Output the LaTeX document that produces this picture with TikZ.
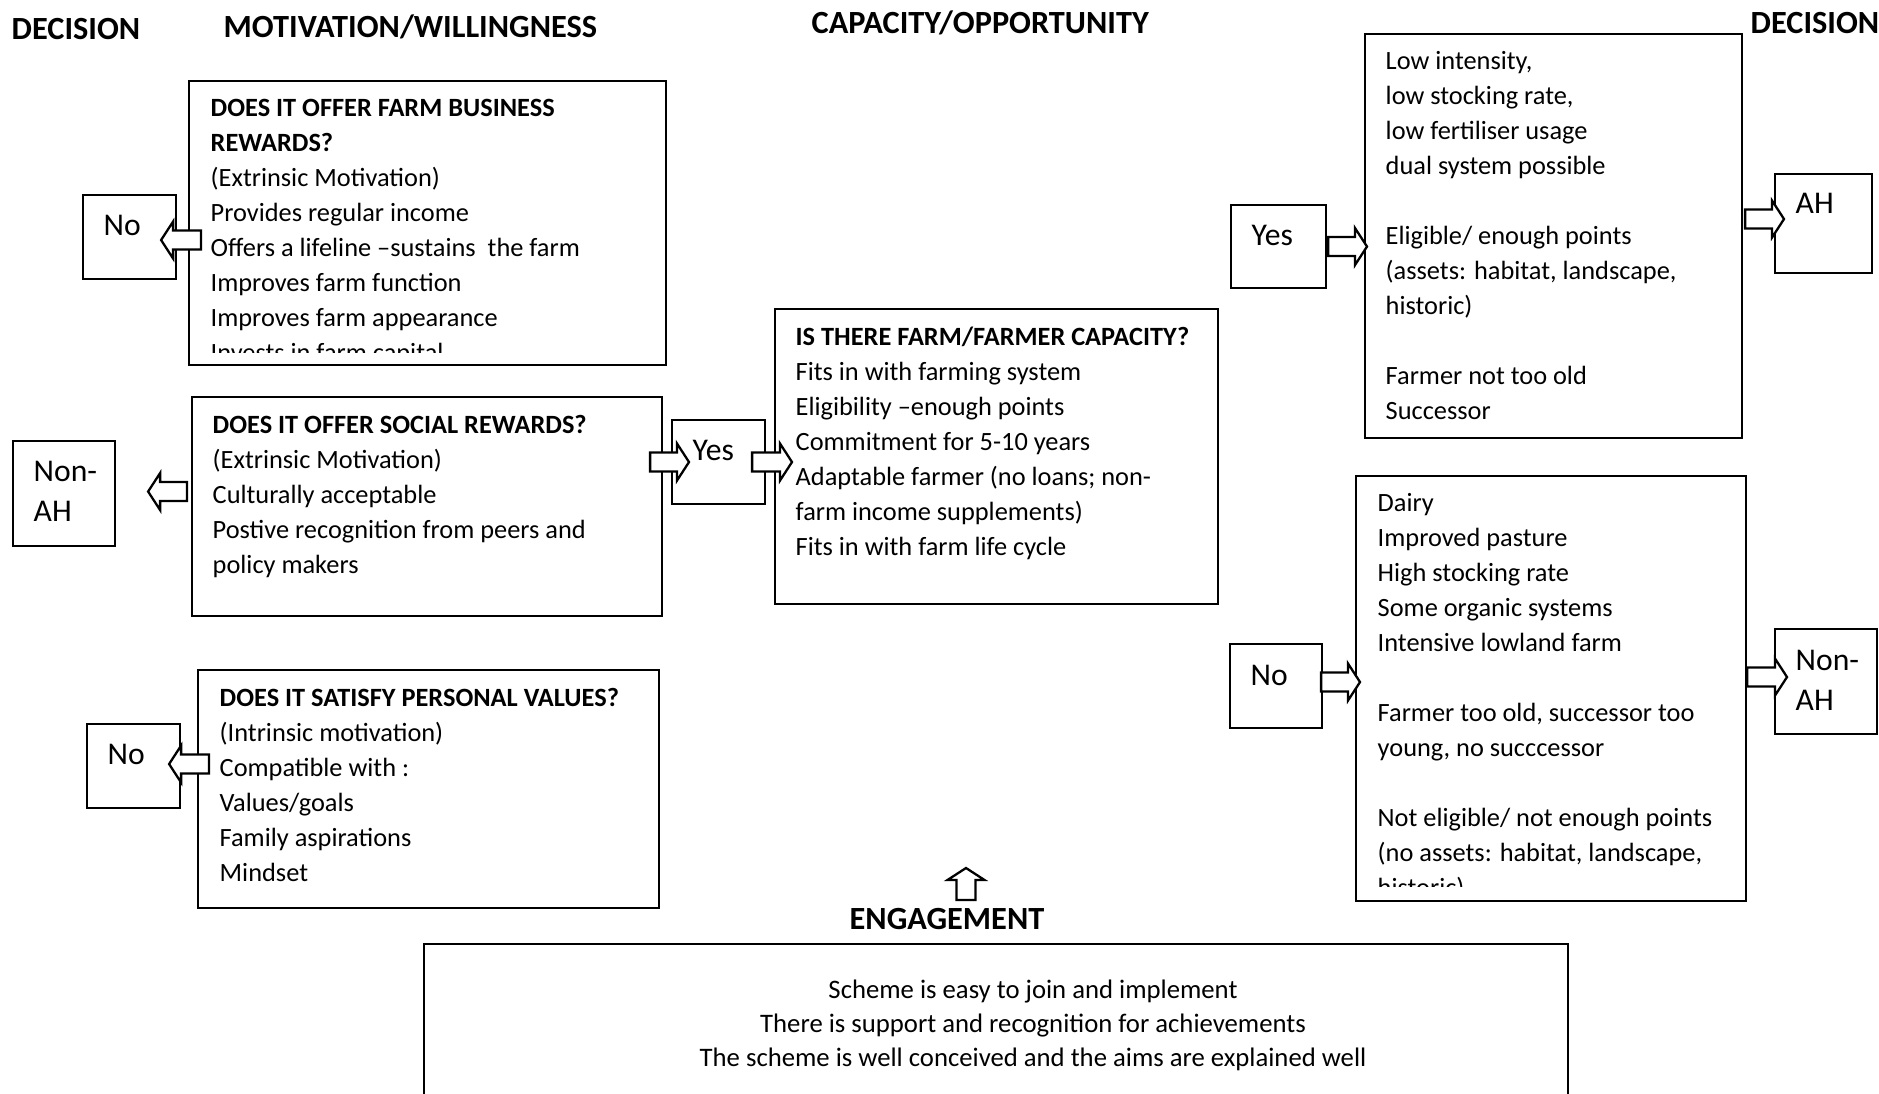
\documentclass[tikz,border=0pt]{standalone}
\usepackage{fontspec}
\setmainfont{Carlito}
\usetikzlibrary{calc}

\tikzset{
  box/.style={draw, line width=0.6pt, fill=white, inner sep=0pt, anchor=north west},
  txt/.style={anchor=base west, align=left, inner sep=0pt, font=\fontsize{7.5}{9.96}\selectfont},
  dtxt/.style={anchor=base west, align=left, inner sep=0pt, font=\fontsize{9}{11.4}\selectfont},
  head/.style={anchor=base west, inner sep=0pt, font=\fontsize{9.2}{11}\selectfont\bfseries},
  arr/.style={draw, line width=0.65pt, fill=white, line join=miter},
}

% hollow block arrow from #1 (tail) to #2 (tip)
\newcommand{\blockarrow}[2]{%
  \path (#1) coordinate (ba) (#2) coordinate (bb);
  \draw[arr] ($(ba)!0.095cm!90:(bb)$) -- ($(bb)!0.12cm!(ba)!0.095cm!90:(bb)$)
    -- ($(bb)!0.12cm!(ba)!0.185cm!90:(bb)$) -- (bb)
    -- ($(bb)!0.12cm!(ba)!0.185cm!-90:(bb)$) -- ($(bb)!0.12cm!(ba)!0.095cm!-90:(bb)$)
    -- ($(ba)!0.095cm!-90:(bb)$) -- cycle;}

\begin{document}
\begin{tikzpicture}
  \clip (0,0) rectangle (18.79,10.94);
  % headings
  \node[head] (dec1) at (0.11,10.54) {DECISION};
  \node[head] (motiv) at (2.23,10.56) {MOTIVATION/WILLINGNESS};
  \node[head] (capac) at (8.11,10.60) {CAPACITY/OPPORTUNITY};
  \node[head] (dec2) at (17.50,10.60) {DECISION};

  % big boxes
  \node[box, minimum width=4.77cm, minimum height=2.84cm] (farm) at (1.88,10.14) {};
  \node[box, minimum width=4.70cm, minimum height=2.19cm] (social) at (1.91,6.98) {};
  \node[box, minimum width=4.61cm, minimum height=2.38cm] (values) at (1.97,4.25) {};
  \node[box, minimum width=4.43cm, minimum height=2.95cm] (capacity) at (7.74,7.86) {};
  \node[box, minimum width=3.77cm, minimum height=4.04cm] (ahbox) at (13.64,10.61) {};
  \node[box, minimum width=3.90cm, minimum height=4.25cm] (nonbox) at (13.55,6.19) {};
  \node[box, minimum width=11.44cm, minimum height=2.0cm] (engbox) at (4.23,1.51) {};

  % decision boxes
  \node[box, minimum width=0.93cm, minimum height=0.84cm] (no1) at (0.82,9.00) {};
  \node[box, minimum width=1.02cm, minimum height=1.05cm] (nonah1) at (0.12,6.54) {};
  \node[box, minimum width=0.93cm, minimum height=0.84cm] (no2) at (0.86,3.71) {};
  \node[box, minimum width=0.93cm, minimum height=0.84cm] (yes1) at (6.71,6.75) {};
  \node[box, minimum width=0.95cm, minimum height=0.83cm] (yes2) at (12.30,8.90) {};
  \node[box, minimum width=0.97cm, minimum height=0.99cm] (ah) at (17.74,9.21) {};
  \node[box, minimum width=0.92cm, minimum height=0.84cm] (no3) at (12.29,4.51) {};
  \node[box, minimum width=1.02cm, minimum height=1.05cm] (nonah2) at (17.74,4.66) {};
  \foreach \n/\t/\d in {no1/No/0.42, nonah1/{Non-\\AH}/0.82, no2/No/0.42, yes1/Yes/0.42, yes2/Yes/0.42, ah/AH/0.41, no3/No/0.43, nonah2/{Non-\\AH}/0.83}
    \node[dtxt] (t-\n) at ($(\n.north west)+(0.21,-\d)$) {\t};

  % box texts (anchored at the baseline of their last line)
  \begin{scope}
    \clip (1.88,7.41) rectangle (6.65,10.14);
    \node[txt] (farmtxt) at (2.10,7.32) {\textbf{DOES IT OFFER FARM BUSINESS}\\\textbf{REWARDS?}\\(Extrinsic Motivation)\\Provides regular income\\Offers a lifeline --sustains\ \ the farm\\Improves farm function\\Improves farm appearance\\Invests in farm capital};
  \end{scope}
  \node[txt] (socialtxt) at (2.12,5.20) {\textbf{DOES IT OFFER SOCIAL REWARDS?}\\(Extrinsic Motivation)\\Culturally acceptable\\Postive recognition from peers and\\policy makers};
  \node[txt] (valuestxt) at (2.19,2.12) {\textbf{DOES IT SATISFY PERSONAL VALUES?}\\(Intrinsic motivation)\\Compatible with :\\Values/goals\\Family aspirations\\Mindset};
  \node[txt] (capacitytxt) at (7.95,5.38) {\textbf{IS THERE FARM/FARMER CAPACITY?}\\Fits in with farming system\\Eligibility --enough points\\Commitment for 5-10 years\\Adaptable farmer (no loans; non-\\farm income supplements)\\Fits in with farm life cycle};
  \node[txt] (ahtxt) at (13.85,6.74) {Low intensity,\\low stocking rate,\\low fertiliser usage\\dual system possible\\[0.35cm]Eligible/ enough points\\(assets: habitat, landscape,\\historic)\\[0.35cm]Farmer not too old\\Successor};
  \begin{scope}
    \clip (13.55,2.07) rectangle (17.45,6.19);
    \node[txt] (nontxt) at (13.77,1.97) {Dairy\\Improved pasture\\High stocking rate\\Some organic systems\\Intensive lowland farm\\[0.35cm]Farmer too old, successor too\\young, no succcessor\\[0.35cm]Not eligible/ not enough points\\(no assets: habitat, landscape,\\historic)};
  \end{scope}

  % engagement
  \node[head, anchor=base] (englabel) at (9.47,1.64) {ENGAGEMENT};
  \node[align=center, anchor=base, inner sep=0pt, font=\fontsize{7.6}{9.8}\selectfont] (engtxt) at (10.33,0.27) {Scheme is easy to join and implement\\There is support and recognition for achievements\\The scheme is well conceived and the aims are explained well};
  \coordinate (engtip) at (9.66,2.26);

  % arrows
  \blockarrow{$(farm.west|-no1)+(0.13,-0.03)$}{$(no1.east)+(-0.16,-0.03)$}
  \blockarrow{$(social.west|-nonah1)+(-0.04,0.02)$}{$(nonah1.east)+(0.32,0.02)$}
  \blockarrow{$(social.east|-yes1)+(-0.13,0)$}{$(yes1.west)+(0.18,0)$}
  \blockarrow{$(yes1.east)+(-0.14,0)$}{$(capacity.west|-yes1)+(0.18,0)$}
  \blockarrow{$(values.west|-no2)+(0.12,0.02)$}{$(no2.east)+(-0.12,0.02)$}
  \blockarrow{$(yes2.east)+(0.01,0)$}{$(ahbox.west|-yes2)+(0.03,0)$}
  \blockarrow{$(ahbox.east|-ah)+(0.02,0.045)$}{$(ah.west)+(0.10,0.045)$}
  \blockarrow{$(no3.east)+(-0.02,0.04)$}{$(nonbox.west|-no3)+(0.05,0.04)$}
  \blockarrow{$(nonbox.east|-nonah2)+(0,0.045)$}{$(nonah2.west)+(0.13,0.045)$}
  \blockarrow{$(englabel.north)+(0.19,0.08)$}{engtip}
\end{tikzpicture}
\end{document}
